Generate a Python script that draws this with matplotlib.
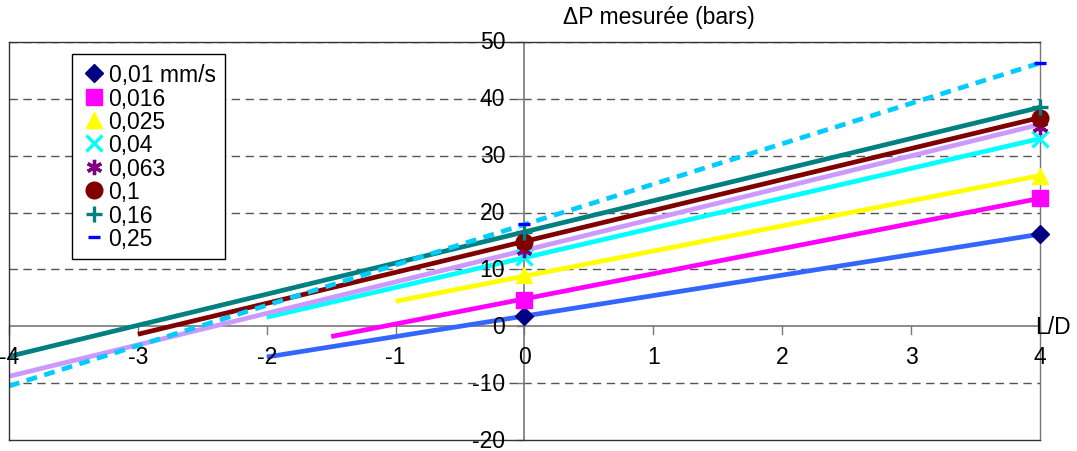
import numpy as np
import matplotlib
matplotlib.use("Agg")
import matplotlib.pyplot as plt

plt.rcParams['font.family'] = ['Liberation Sans', 'DejaVu Sans']

# measured points (L/D = 0 and L/D = 4)
labels = ['0,01 mm/s', '0,016', '0,025', '0,04', '0,063', '0,1', '0,16', '0,25']
ld = [0, 4]
p_0 = [1.8, 4.7, 9.0, 12.1, 13.4, 14.9, 16.6, 18.0]
p_4 = [16.2, 22.5, 26.5, 33.0, 35.0, 36.7, 38.5, 46.3]

# trend lines (start point, end at L/D = 4)
trend_x0 = [-2, -1.5, -1, -2, -4, -3, -4, -4]
trend_y0 = [-5.4, -1.8, 4.4, 1.6, -8.8, -1.4, -5.3, -10.5]
trend_y4 = [16.2, 22.5, 26.5, 33.0, 35.5, 36.7, 38.5, 46.3]

xticks = [-4, -3, -2, -1, 0, 1, 2, 3, 4]
yticks = [-20, -10, 0, 10, 20, 30, 40, 50]

marker_colors = ['#000080', '#FF00FF', '#FFFF00', '#00FFFF', '#800080', '#800000', '#008080', '#0000FF']
markers = ['D', 's', '^', 'x', (6, 2, 0), 'o', '+', '_']
msizes = [9, 11, 11, 11, 11, 12, 12, 8]
line_colors = ['#3366FF', '#FF00FF', '#FFFF00', '#00FFFF', '#CC99FF', '#800000', '#008080', '#00CCFF']

fs = 16.5

fig = plt.figure(figsize=(10.77, 4.52), dpi=100)
ax = fig.add_axes([0.0084, 0.0243, 0.9572, 0.8806])

for i in range(len(labels)):
    ls = (0, (2.3, 1.6)) if i == 7 else '-'
    ax.plot([trend_x0[i], 4], [trend_y0[i], trend_y4[i]], color=line_colors[i],
            lw=3.4, ls=ls, zorder=2, solid_capstyle='butt')
    mew = 2.4 if markers[i] in ('x', '+', '_') or i == 4 else 1
    ax.plot(ld, [p_0[i], p_4[i]], ls='none', marker=markers[i], ms=msizes[i],
            color=marker_colors[i], mew=mew, label=labels[i], zorder=3, clip_on=False)

ax.set_xlim(-4, 4)
ax.set_ylim(-20, 50)

for y in [-10, 10, 20, 30, 40, 50]:
    ax.axhline(y, color='#555555', lw=1, ls=(0, (6, 4)), zorder=1)
ax.axhline(0, color='#777777', lw=1.2, zorder=1)
ax.axvline(0, color='#777777', lw=1.2, zorder=1)

for s in ax.spines.values():
    s.set_color('#333333')
    s.set_linewidth(1)
ax.spines['right'].set_color('#777777')

ax.set_xticks([])
ax.set_yticks([])

# ticks and labels drawn at the crossing axes
for x in xticks:
    ax.plot([x, x], [0, -1.3], color='#777777', lw=1, zorder=1, clip_on=False)
    ax.text(x, -5.3, str(x), ha='center', va='center', fontsize=fs)
for y in yticks:
    ax.plot([0, -0.06], [y, y], color='#777777', lw=1, zorder=1, clip_on=False)
    ax.text(-0.15, y, str(y), ha='right', va='center', fontsize=fs)

ax.text(3.96, 0, 'L/D', ha='left', va='center', fontsize=fs)
ax.text(0.63, 1.063, '\u0394P mesurée (bars)', transform=ax.transAxes, ha='center',
        va='center', fontsize=fs)

leg = ax.legend(loc='upper left', bbox_to_anchor=(0.061, 0.97), fontsize=fs,
                frameon=True, fancybox=False, edgecolor='black', framealpha=1,
                handlelength=1.1, handletextpad=0.1, borderpad=0.4, labelspacing=0.02,
                borderaxespad=0, numpoints=1)
leg.get_frame().set_linewidth(1)

fig.savefig('out.png', dpi=100)
